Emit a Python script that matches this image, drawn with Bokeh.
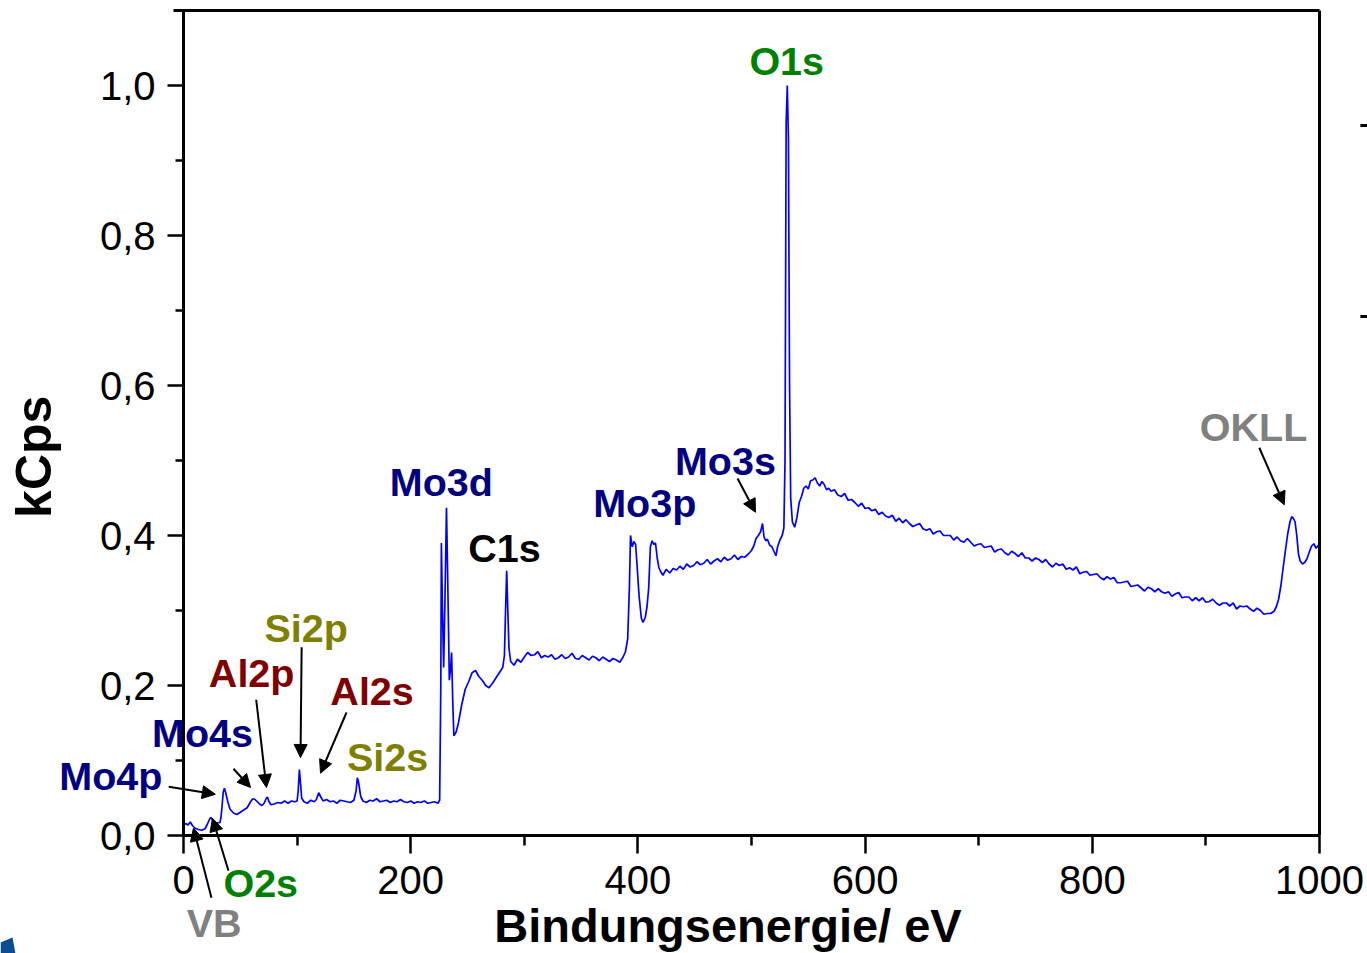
import math
from bokeh.plotting import figure
from bokeh.models import (Range1d, FixedTicker, CustomJSTickFormatter, Label,
                          Arrow, NormalHead, LinearAxis)
from bokeh.embed import file_html
from bokeh.resources import INLINE

FONT = "Liberation Sans"

# XPS survey spectrum, (binding energy eV, intensity kCps), region by region
valence_to_si2s = [
    (0, .013), (2, .016), (4, .014), (6, .018), (8, .013), (10, .010),
    (13, .008), (16, .007), (19, .009), (21, .015), (23, .022), (24, .024),
    (26, .020), (28, .016), (30, .017), (32, .017), (33, .024), (34, .040),
    (35, .058), (36, .063), (37, .058), (39, .045), (41, .035), (44, .030),
    (47, .028), (50, .031), (53, .034), (56, .037), (59, .045), (61, .049),
    (63, .048), (65, .045), (67, .042), (69, .040), (71, .043), (73, .050),
    (74, .051), (75, .046), (77, .041), (80, .042), (83, .044), (86, .043),
    (89, .046), (92, .043), (95, .046), (98, .045), (100, .046), (101, .060),
    (102, .088), (103, .070), (104, .050), (106, .045), (109, .043),
    (112, .047), (115, .045), (117, .048), (119, .057), (121, .051),
    (123, .046), (126, .048), (129, .045), (132, .046), (135, .043),
    (138, .047), (141, .046), (144, .045), (147, .044), (150, .047),
    (152, .060), (153, .077), (154, .072), (156, .052), (158, .046),
    (161, .044), (164, .047), (167, .046), (170, .049), (173, .045),
    (176, .046), (179, .047), (182, .044), (185, .046), (188, .045),
    (191, .048), (194, .045), (197, .044), (200, .046), (203, .043),
    (206, .045), (209, .044), (212, .046), (215, .043), (218, .044),
    (221, .045), (224, .043), (225.5, .047),
]
mo3d_to_c1s = [
    (226.5, .200), (227, .390), (228, .300), (229, .224), (230, .300),
    (231.5, .437), (232.5, .350), (234, .207), (235, .220), (236, .244),
    (237, .180), (238, .133), (240, .138), (242, .150), (245, .175),
    (248, .195), (251, .205), (254, .217), (257, .220), (260, .212),
    (263, .207), (266, .200), (269, .197), (272, .203), (275, .210),
    (278, .217), (281, .224), (282.5, .240), (283.5, .300), (284.5, .353),
    (285.5, .300), (286.5, .250), (288, .232), (291, .227), (294, .235),
    (297, .231), (300, .238), (303, .244), (306, .240), (309, .241),
    (312, .245), (315, .237), (318, .240), (321, .238), (324, .241),
    (327, .235), (330, .237), (333, .241), (336, .236), (339, .238),
    (342, .243), (345, .236), (348, .235), (351, .240), (354, .237),
    (357, .234), (360, .239), (363, .237), (366, .233), (369, .238),
    (372, .235), (375, .232), (378, .236), (381, .234), (384, .231),
    (387, .238),
]
mo3p_to_mo3s = [
    (389, .245), (391, .262), (392.5, .330), (393.5, .400), (395, .385),
    (396.5, .392), (398, .388), (399.5, .355), (401, .320), (403, .290),
    (404.5, .284), (406.5, .291), (408, .305), (409.5, .330), (411, .385),
    (412.5, .393), (414, .388), (415.5, .390), (417, .370), (418.5, .357),
    (420, .352), (422, .347), (425, .355), (428, .350), (431, .356),
    (434, .354), (437, .359), (440, .355), (443, .362), (446, .358),
    (449, .360), (452, .365), (455, .361), (458, .363), (461, .368),
    (464, .362), (467, .366), (470, .369), (473, .365), (476, .371),
    (479, .367), (482, .369), (485, .374), (488, .368), (491, .372),
    (494, .371), (497, .375), (500, .380), (502, .386), (504, .396),
    (506, .400), (508, .405), (509.7, .416), (511, .398), (512.5, .393),
    (514, .395), (516, .387), (518, .385), (520, .378), (521.5, .373),
    (523, .385), (525, .394), (527, .400), (528.5, .410),
]
o1s_region = [
    (529.5, .500), (530.5, .950), (531.5, 1.000), (532.5, .930),
    (533.5, .600), (534.5, .450), (536, .418), (538, .411), (540, .424),
    (542, .444), (544, .452), (546, .463), (548, .466), (550, .462),
    (552, .473), (554, .474), (556, .477), (558, .470), (560, .466),
    (562, .472), (564, .468), (566, .461), (568, .463), (570, .459),
    (573, .461), (576, .454), (579, .452), (582, .456), (585, .447),
    (588, .448), (591, .444), (594, .439), (597, .443), (600, .436),
    (603, .437), (606, .433), (609, .435), (612, .428), (615, .431),
    (618, .426), (621, .424), (624, .427), (627, .419),
]
inelastic_background = [
    (630, .423), (633, .417), (636, .421), (639, .416), (642, .412),
    (645, .414), (648, .416), (651, .409), (654, .407), (657, .409),
    (660, .402), (663, .405), (666, .406), (669, .400), (672, .400),
    (675, .400), (678, .394), (681, .398), (684, .393), (687, .391),
    (690, .396), (693, .391), (696, .386), (699, .388), (702, .389),
    (705, .384), (708, .385), (711, .386), (714, .378), (717, .381),
    (720, .382), (723, .377), (726, .374), (729, .379), (732, .376),
    (735, .372), (738, .377), (741, .370), (744, .370), (747, .366),
    (750, .370), (753, .368), (756, .364), (759, .368), (762, .362),
    (765, .358), (768, .363), (771, .360), (774, .362), (777, .355),
    (780, .357), (783, .354), (786, .358), (789, .349), (792, .351),
    (795, .352), (798, .347), (801, .348), (804, .349), (807, .344),
    (810, .341), (813, .345), (816, .342), (819, .344), (822, .337),
    (825, .337), (828, .338), (831, .339), (834, .332), (837, .333),
    (840, .334), (843, .330), (846, .326), (849, .331), (852, .329),
    (855, .325), (858, .329), (861, .325), (864, .323), (867, .325),
    (870, .319), (873, .322), (876, .324), (879, .317), (882, .318),
    (885, .318), (888, .313), (891, .317), (894, .313), (897, .317),
    (900, .311), (903, .312), (906, .315), (909, .310), (912, .307),
    (915, .310), (918, .310), (921, .306), (924, .310), (927, .302),
    (930, .306), (933, .305), (936, .306), (939, .302), (942, .299),
    (945, .303), (948, .300), (951, .295), (954, .296), (957, .296),
]
okll_region = [
    (960, .299), (962, .305), (964, .315), (966, .333), (968, .357),
    (970, .380), (972, .402), (974, .418), (975.5, .425), (977, .423),
    (978.5, .418), (980, .400), (981.5, .375), (983, .366), (985, .362),
    (987, .364), (989, .369), (991, .378), (993, .386), (995, .389),
    (997, .383), (999, .387), (1000, .384),
]
spectrum = (valence_to_si2s + mo3d_to_c1s + mo3p_to_mo3s + o1s_region
            + inelastic_background + okll_region)
energy_ev = [e for e, _ in spectrum]
intensity_kcps = [c for _, c in spectrum]

# Peak assignments: label text, label anchor (eV, kCps), colour
peak_names = ["O1s", "Mo3d", "C1s", "Mo3p", "Mo3s", "OKLL", "Si2p", "Al2p",
              "Al2s", "Si2s", "Mo4s", "Mo4p", "O2s", "VB"]
peak_label_x = [531, 227, 282.6, 406, 477, 942, 108, 60, 166, 179.6, 16.7,
                -64, 68, 27]
peak_label_y = [1.033, 0.471, 0.383, 0.444, 0.500, 0.545, 0.277, 0.217,
                0.193, 0.105, 0.137, 0.079, -0.063, -0.116]
peak_colors = ["#008000", "#000080", "#000000", "#000080", "#000080",
               "#808080", "#808000", "#800000", "#800000", "#808000",
               "#000080", "#000080", "#008000", "#808080"]

# Pointer arrows from labels to their peaks (eV, kCps)
arrow_x0 = [487.7, 947, 104, 64, 143.5, 44, -13, 39.6, 24.6]
arrow_y0 = [0.476, 0.517, 0.251, 0.181, 0.164, 0.089, 0.065, -0.047, -0.083]
arrow_x1 = [503.5, 969, 103, 73, 120.6, 59, 28, 25.5, 8.8]
arrow_y1 = [0.431, 0.441, 0.104, 0.064, 0.083, 0.064, 0.055, 0.023, 0.010]

x_major = [0, 200, 400, 600, 800, 1000]
x_minor = [100, 300, 500, 700, 900]
y_major = [0.0, 0.2, 0.4, 0.6, 0.8, 1.0]
y_minor = [0.1, 0.3, 0.5, 0.7, 0.9]

# Tick stubs of the neighbouring panel at the right edge, and a corner logo
edge_tick_y = [0.9467, 0.692]
logo_x = [-161.1, -150.5, -147.9, -161.1]
logo_y = [-0.1427, -0.136, -0.1573, -0.1573]

# Page geometry: the axes box sits inside a full-page frame
W, H = 1367, 953
BOX_L, BOX_R, BOX_T, BOX_B = 183, 1319, 10, 835
X_MIN, X_MAX, Y_MIN, Y_MAX = 0, 1000, 0.0, 1.1
sx = (BOX_R - BOX_L) / (X_MAX - X_MIN)
sy = (BOX_B - BOX_T) / (Y_MAX - Y_MIN)
x_range = Range1d(X_MIN - BOX_L / sx, X_MAX + (W - BOX_R) / sx)
y_range = Range1d(Y_MIN - (H - BOX_B) / sy, Y_MAX + BOX_T / sy)

p = figure(width=W, height=H, output_backend="svg", toolbar_location=None,
           x_range=x_range, y_range=y_range,
           min_border_left=0, min_border_right=0, min_border_top=0,
           min_border_bottom=0)
p.title.visible = False
p.background_fill_color = "white"
p.border_fill_color = "white"
p.outline_line_color = None
p.grid.visible = False

p.line(energy_ev, intensity_kcps, line_color="#0000ff", line_width=1.7)

xa = p.xaxis[0]
ya = p.yaxis[0]
xa.fixed_location = Y_MIN
xa.bounds = (X_MIN, X_MAX)
ya.fixed_location = X_MIN
ya.bounds = (Y_MIN, Y_MAX)
for ax in (xa, ya):
    ax.axis_line_width = 3
    ax.axis_line_color = "black"
    ax.major_tick_line_width = 2.5
    ax.minor_tick_line_width = 2.5
    ax.major_tick_in = 0
    ax.minor_tick_in = 0
    ax.major_label_text_font = FONT
    ax.major_label_text_font_size = "40px"
    ax.major_label_text_color = "black"

xa.ticker = FixedTicker(ticks=x_major, minor_ticks=x_minor)
xa.major_tick_out = 18
xa.minor_tick_out = 10
xa.major_label_standoff = 12

ya.ticker = FixedTicker(ticks=y_major, minor_ticks=y_minor)
ya.major_tick_out = 16
ya.minor_tick_out = 8
ya.major_label_standoff = 12
ya.formatter = CustomJSTickFormatter(
    code="return tick.toFixed(1).replace('.', ',');")

# Closing top and right sides of the axes box
top_axis = LinearAxis(fixed_location=Y_MAX, bounds=(X_MIN - 9, X_MAX),
                      ticker=FixedTicker(ticks=[]), axis_line_width=3,
                      major_label_text_font_size="0px",
                      major_tick_line_color=None, minor_tick_line_color=None)
right_axis = LinearAxis(fixed_location=X_MAX, bounds=(Y_MIN, Y_MAX),
                        ticker=FixedTicker(ticks=[]), axis_line_width=3,
                        major_label_text_font_size="0px",
                        major_tick_line_color=None, minor_tick_line_color=None)
p.add_layout(top_axis, "above")
p.add_layout(right_axis, "right")

# Axis titles
p.add_layout(Label(x=479.3, y=-0.1195, text="Bindungsenergie/ eV",
                   text_font=FONT, text_font_style="bold",
                   text_font_size="47px", text_align="center",
                   text_baseline="middle", text_color="black"))
p.add_layout(Label(x=-131.2, y=0.505, text="kCps", angle=math.pi / 2,
                   text_font=FONT, text_font_style="bold",
                   text_font_size="50px", text_align="center",
                   text_baseline="middle", text_color="black"))

for name, lx, ly, col in zip(peak_names, peak_label_x, peak_label_y,
                             peak_colors):
    p.add_layout(Label(x=lx, y=ly, text=name, text_font=FONT,
                       text_font_style="bold", text_font_size="39.5px",
                       text_color=col, text_align="center",
                       text_baseline="middle"))

for x0, y0, x1, y1 in zip(arrow_x0, arrow_y0, arrow_x1, arrow_y1):
    p.add_layout(Arrow(x_start=x0, y_start=y0, x_end=x1, y_end=y1,
                       line_width=2, line_color="black",
                       end=NormalHead(size=13, fill_color="black",
                                      line_color="black", line_width=1)))

p.segment(x0=[1036] * len(edge_tick_y), y0=edge_tick_y,
          x1=[x_range.end] * len(edge_tick_y), y1=edge_tick_y,
          line_color="black", line_width=3)
p.patch(logo_x, logo_y, fill_color="#0b4d91", line_color=None)

open("out.html", "w").write(file_html(p, INLINE))
